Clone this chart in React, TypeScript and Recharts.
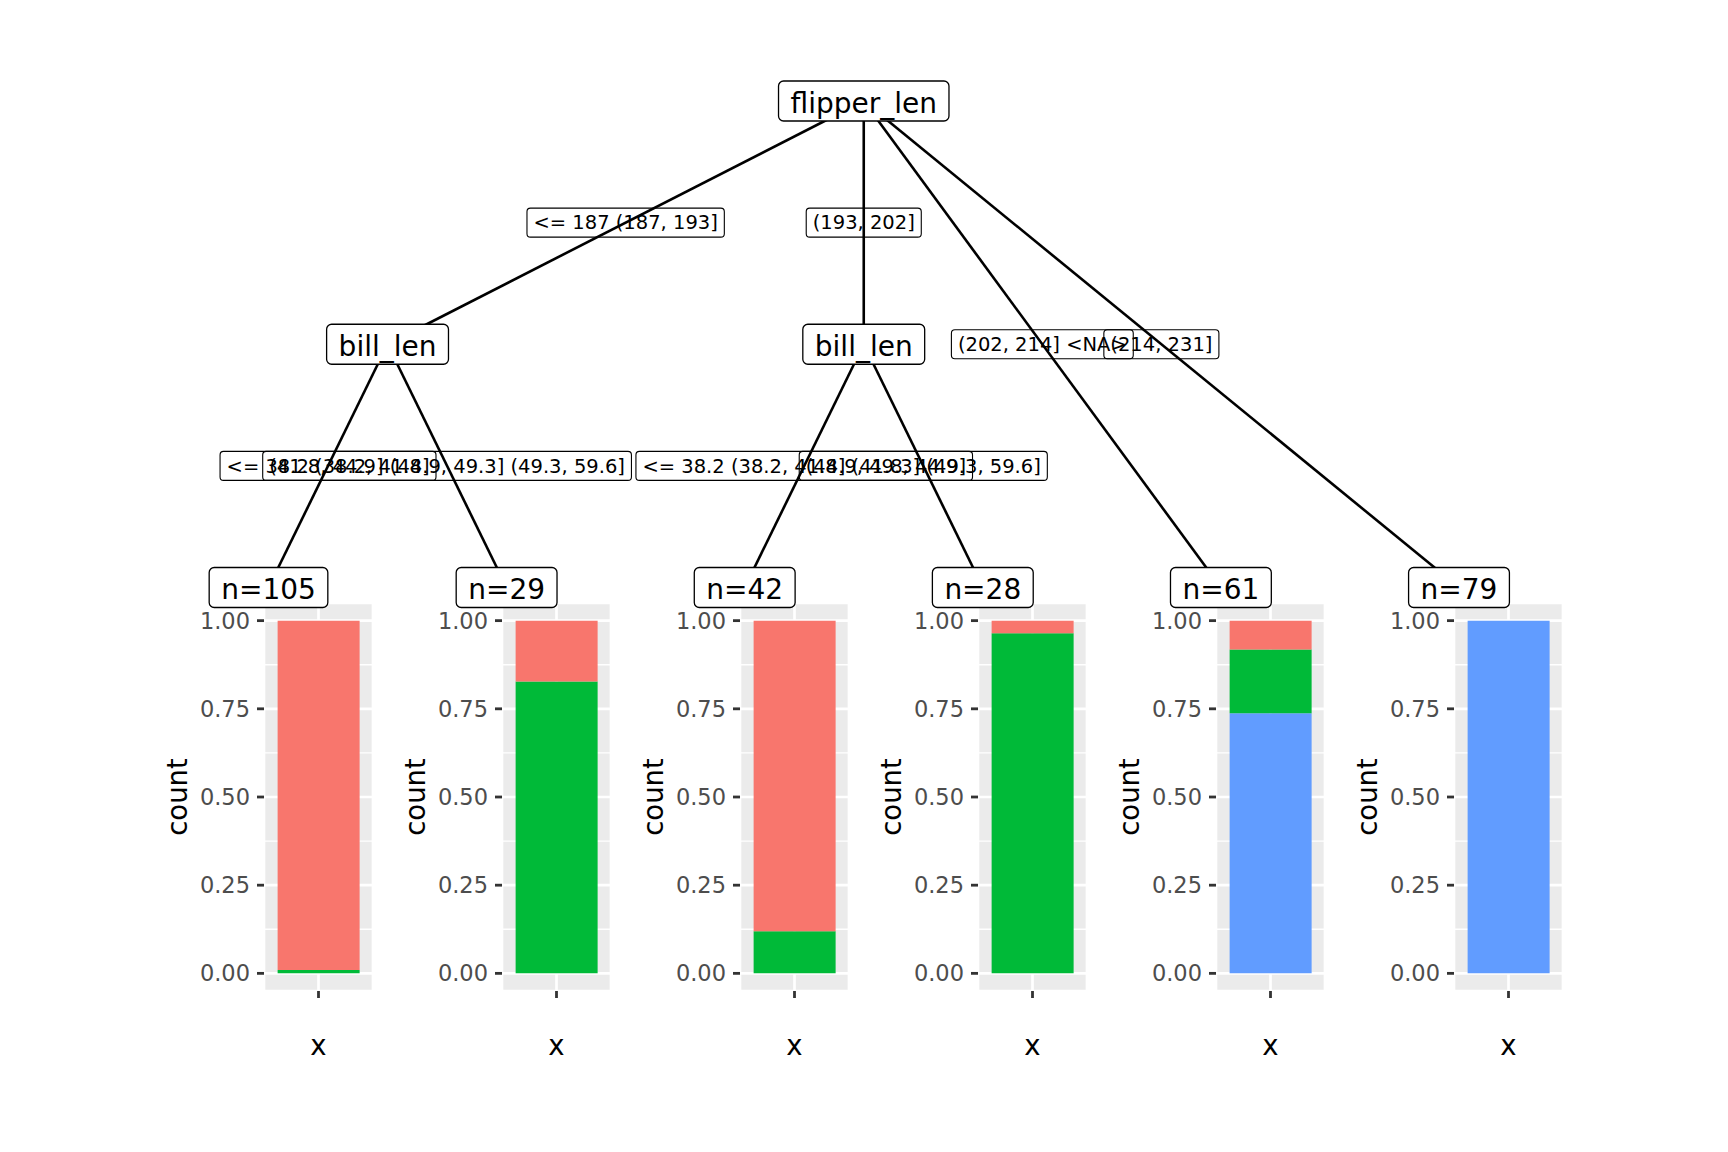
import React from "react";
import { ScatterChart, Scatter, BarChart, Bar, XAxis, YAxis, CartesianGrid } from "recharts";

// tree structure (partykit-style ctree on penguins)
const splitNodes = [
  { id: 1, parent: 0, label: "flipper_len", edge: "" },
  { id: 2, parent: 1, label: "bill_len", edge: "<= 187 (187, 193]" },
  { id: 5, parent: 1, label: "bill_len", edge: "(193, 202]" },
];

const leafParents = [2, 2, 5, 5, 1, 1];
const leafEdges = [
  "<= 38.2 (38.2, 41.8]",
  "(41.8, 44.9] (44.9, 49.3] (49.3, 59.6]",
  "<= 38.2 (38.2, 41.8] (41.8, 44.9]",
  "(44.9, 49.3] (49.3, 59.6]",
  "(202, 214] <NA>",
  "(214, 231]",
];

// species counts per terminal node
const adelieCounts = [104, 5, 37, 1, 5, 0];
const chinstrapCounts = [1, 24, 5, 27, 11, 0];
const gentooCounts = [0, 0, 0, 0, 45, 79];

const yTicks = [0, 0.25, 0.5, 0.75, 1];
const yMinor = [0.125, 0.375, 0.625, 0.875];

const COLORS = { adelie: "#F8766D", chinstrap: "#00BA38", gentoo: "#619CFF" };
const FONT = '"DejaVu Sans", sans-serif';

// page layout
const W = 1728;
const H = 1152;
const TREE_M = { top: 101, right: 269, bottom: 564.5, left: 268.5 };
const LEAF_STEP = (W - TREE_M.left - TREE_M.right) / (leafParents.length - 1);
const PANEL_TOP = 603;
const PANEL_W = 109;
const PANEL_H = 388;
const YAXIS_W = 110;
const XAXIS_H = 75;
const TICK_LEN = 7;
const TICK_GAP = 7;

let ctx: CanvasRenderingContext2D | null = null;
function textWidth(s: string, size: number) {
  if (!ctx) ctx = document.createElement("canvas").getContext("2d");
  if (!ctx) return s.length * size * 0.6;
  ctx.font = `${size}px "DejaVu Sans"`;
  return ctx.measureText(s).width;
}

type TNode = { id: number; parent: number; label: string; edge: string; leaf?: number };

const leafNodes: TNode[] = leafParents.map((p, i) => ({
  id: 100 + i,
  parent: p,
  label: `n=${adelieCounts[i] + chinstrapCounts[i] + gentooCounts[i]}`,
  edge: leafEdges[i],
  leaf: i,
}));
const allNodes: TNode[] = [...splitNodes, ...leafNodes];

function leavesUnder(id: number): number[] {
  const n = allNodes.find((d) => d.id === id)!;
  if (n.leaf !== undefined) return [n.leaf];
  return allNodes.filter((d) => d.parent === id).flatMap((d) => leavesUnder(d.id));
}
function depth(id: number): number {
  const n = allNodes.find((d) => d.id === id)!;
  return n.parent === 0 ? 0 : 1 + depth(n.parent);
}
const maxDepth = Math.max(...splitNodes.map((d) => depth(d.id))) + 1;

const pos: Record<number, { x: number; y: number }> = {};
allNodes.forEach((n) => {
  const lv = leavesUnder(n.id);
  pos[n.id] = {
    x: lv.reduce((a, b) => a + b, 0) / lv.length,
    y: n.leaf !== undefined ? maxDepth : depth(n.id),
  };
});

const edges = allNodes
  .filter((n) => n.parent !== 0)
  .map((n) => ({ id: n.id, a: pos[n.parent], b: pos[n.id], label: n.edge }));

const edgeLabelPts = edges.map((e) => ({
  x: (e.a.x + e.b.x) / 2,
  y: (e.a.y + e.b.y) / 2,
  label: e.label,
}));
const nodePts = allNodes.map((n) => ({ ...pos[n.id], label: n.label }));

function NodeLabel(props: any) {
  const { cx, cy, payload } = props;
  const fs = 28;
  const w = textWidth(payload.label, fs) + 24;
  const h = 40;
  return (
    <g>
      <rect x={cx - w / 2} y={cy - h / 2} width={w} height={h} rx={5} fill="#fff" stroke="#000" strokeWidth={1.3} />
      <text x={cx} y={cy + 11.5} textAnchor="middle" fontSize={fs} fontFamily={FONT} fill="#000">
        {payload.label}
      </text>
    </g>
  );
}

function EdgeLabel(props: any) {
  const { cx, cy, payload } = props;
  const fs = 19.5;
  const w = textWidth(payload.label, fs) + 13;
  const h = 29;
  return (
    <g>
      <rect x={cx - w / 2} y={cy - h / 2} width={w} height={h} rx={3.5} fill="none" stroke="#000" strokeWidth={1.1} />
      <text x={cx} y={cy + 6.8} textAnchor="middle" fontSize={fs} fontFamily={FONT} fill="#000">
        {payload.label}
      </text>
    </g>
  );
}

const noShape = () => <g />;

function minorLines(args: any) {
  const ya = args?.yAxis;
  if (ya && typeof ya.scale === "function") return yMinor.map((v) => ya.scale(v));
  const top = args?.offset?.top ?? 0;
  return yMinor.map((v) => top + ((1.05 - v) / 1.1) * PANEL_H);
}

// ggplot-like ticks: thick dark tick mark plus grey label
function YTick(props: any) {
  const { x, y, payload } = props;
  return (
    <g>
      <line x1={x + TICK_GAP} x2={x + TICK_GAP + TICK_LEN} y1={y} y2={y} stroke="#333333" strokeWidth={2.8} />
      <text x={x} y={y + 8} textAnchor="end" fontSize={22.5} fontFamily={FONT} fill="#4D4D4D">
        {Number(payload.value).toFixed(2)}
      </text>
    </g>
  );
}

function XTick(props: any) {
  const { x, y } = props;
  return <line x1={x} x2={x} y1={y - TICK_LEN} y2={y} stroke="#333333" strokeWidth={2.8} />;
}

function Panel({ i }: { i: number }) {
  const n = adelieCounts[i] + chinstrapCounts[i] + gentooCounts[i];
  const data = [
    {
      x: "",
      gentoo: gentooCounts[i] / n,
      chinstrap: chinstrapCounts[i] / n,
      adelie: adelieCounts[i] / n,
    },
  ];
  const left = TREE_M.left + i * LEAF_STEP - 5 - YAXIS_W;
  return (
    <div style={{ position: "absolute", left, top: PANEL_TOP }}>
      <BarChart
        width={YAXIS_W + PANEL_W}
        height={PANEL_H + XAXIS_H}
        data={data}
        margin={{ top: 0, right: 0, bottom: 0, left: 0 }}
        barCategoryGap="12.5%"
      >
        <CartesianGrid fill="#EBEBEB" stroke="#FFFFFF" strokeWidth={2.67} />
        <CartesianGrid
          stroke="#FFFFFF"
          strokeWidth={1.33}
          vertical={false}
          horizontalCoordinatesGenerator={minorLines}
        />
        <XAxis
          dataKey="x"
          tick={<XTick />}
          tickSize={TICK_LEN}
          tickMargin={0}
          tickLine={false}
          axisLine={false}
          height={XAXIS_H}
        />
        <YAxis
          type="number"
          domain={[-0.05, 1.05]}
          ticks={yTicks}
          tick={<YTick />}
          tickSize={TICK_LEN}
          tickMargin={TICK_GAP}
          tickLine={false}
          axisLine={false}
          width={YAXIS_W}
        />
        <Bar dataKey="gentoo" stackId="s" fill={COLORS.gentoo} isAnimationActive={false} />
        <Bar dataKey="chinstrap" stackId="s" fill={COLORS.chinstrap} isAnimationActive={false} />
        <Bar dataKey="adelie" stackId="s" fill={COLORS.adelie} isAnimationActive={false} />
        <text
          x={33}
          y={PANEL_H / 2}
          transform={`rotate(-90, 33, ${PANEL_H / 2})`}
          textAnchor="middle"
          fontSize={27.5}
          fontFamily={FONT}
          fill="#000"
        >
          count
        </text>
        <text x={YAXIS_W + PANEL_W / 2} y={452} textAnchor="middle" fontSize={27.5} fontFamily={FONT} fill="#000">
          x
        </text>
      </BarChart>
    </div>
  );
}

export default function App() {
  return (
    <div style={{ position: "absolute", left: 0, top: 0, width: W, height: H, background: "#fff", fontFamily: FONT }}>
      {leafParents.map((_, i) => (
        <Panel key={i} i={i} />
      ))}
      <div style={{ position: "absolute", left: 0, top: 0, pointerEvents: "none" }}>
        <ScatterChart width={W} height={H} margin={TREE_M}>
          <XAxis type="number" dataKey="x" domain={[0, leafParents.length - 1]} hide />
          <YAxis type="number" dataKey="y" domain={[0, maxDepth]} reversed hide />
          {edges.map((e) => (
            <Scatter
              key={e.id}
              data={[e.a, e.b]}
              line={{ stroke: "#000", strokeWidth: 2.6 }}
              shape={noShape}
              isAnimationActive={false}
            />
          ))}
          <Scatter data={edgeLabelPts} shape={EdgeLabel} isAnimationActive={false} />
          <Scatter data={nodePts} shape={NodeLabel} isAnimationActive={false} />
        </ScatterChart>
      </div>
    </div>
  );
}
